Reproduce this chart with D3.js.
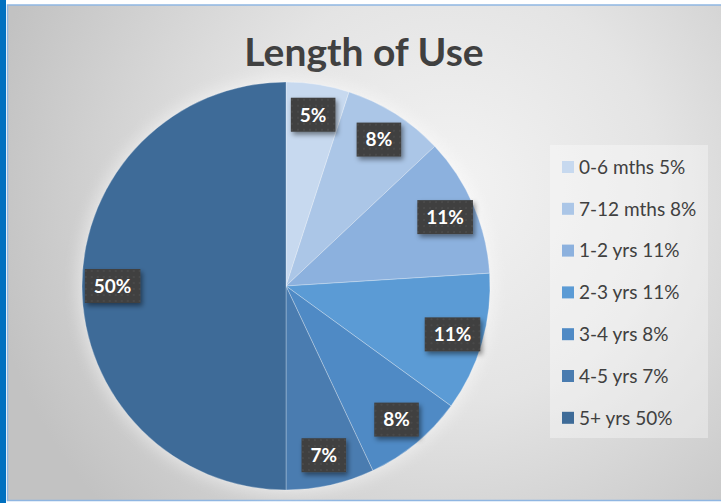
<!DOCTYPE html>
<html>
<head>
<meta charset="utf-8">
<script src="https://cdn.jsdelivr.net/npm/d3@7/dist/d3.min.js"></script>
<style>
  html, body { margin: 0; padding: 0; background: #fff; }
  svg { display: block; }
</style>
</head>
<body>
<div id="chart"></div>
<script>
// data
const categories = ['0-6 mths', '7-12 mths', '1-2 yrs', '2-3 yrs', '3-4 yrs', '4-5 yrs', '5+ yrs'];
const shares = [5, 8, 11, 11, 8, 7, 50];
const sliceColours = ['#c7d9ef', '#abc6e7', '#8cb1de', '#5b9bd5', '#4f8ac5', '#4a7cb0', '#3e6b98'];
const chartTitle = 'Length of Use';

const W = 721, H = 503;
const font = 'Lato, "Open Sans", sans-serif';

const svg = d3.select('#chart').append('svg')
    .attr('width', W)
    .attr('height', H);

const defs = svg.append('defs');

// background gradient
const bg = defs.append('radialGradient')
    .attr('id', 'bgGrad')
    .attr('gradientUnits', 'userSpaceOnUse')
    .attr('cx', 450).attr('cy', 190).attr('r', 470);
bg.append('stop').attr('offset', '0%').attr('stop-color', '#f3f3f3');
bg.append('stop').attr('offset', '45%').attr('stop-color', '#e4e4e4');
bg.append('stop').attr('offset', '100%').attr('stop-color', '#c2c2c2');

// glow round the pie
const glow = defs.append('filter').attr('id', 'glow')
    .attr('x', '-20%').attr('y', '-20%').attr('width', '140%').attr('height', '140%');
glow.append('feGaussianBlur').attr('stdDeviation', 8);

// shadow under label boxes
const shadow = defs.append('filter').attr('id', 'boxShadow')
    .attr('x', '-30%').attr('y', '-30%').attr('width', '170%').attr('height', '170%');
shadow.append('feDropShadow')
    .attr('dx', 2).attr('dy', 3).attr('stdDeviation', 2.5)
    .attr('flood-color', '#000').attr('flood-opacity', 0.45);

// dotted texture of label boxes
const pat = defs.append('pattern').attr('id', 'dots')
    .attr('patternUnits', 'userSpaceOnUse')
    .attr('width', 6).attr('height', 6);
pat.append('rect').attr('width', 6).attr('height', 6).attr('fill', '#3f3f3f');
pat.append('circle').attr('cx', 3).attr('cy', 3).attr('r', 1).attr('fill', '#4e4e4e');

// frame
svg.append('rect')
    .attr('x', 0).attr('y', 0).attr('width', 6).attr('height', H)
    .attr('fill', '#0070c0');
svg.append('rect')
    .attr('x', 7.5).attr('y', 5).attr('width', W).attr('height', 495.5)
    .attr('fill', 'url(#bgGrad)')
    .attr('stroke', '#8fb6e2')
    .attr('stroke-width', 1.5);

// title
svg.append('text')
    .attr('x', 364)
    .attr('y', 66)
    .attr('text-anchor', 'middle')
    .attr('font-family', font)
    .attr('font-weight', 'bold')
    .attr('font-size', '39px')
    .attr('fill', '#404040')
    .text(chartTitle);

// pie
const cx = 286, cy = 286, radius = 204;

const pie = d3.pie().sort(null).value(function (d) { return d; });
const arc = d3.arc().innerRadius(0).outerRadius(radius);
const labelArc = d3.arc().innerRadius(radius * 0.85).outerRadius(radius * 0.85);

const g = svg.append('g')
    .attr('transform', 'translate(' + cx + ',' + cy + ')');

g.append('circle')
    .attr('r', radius + 3)
    .attr('fill', '#ffffff')
    .attr('opacity', 0.5)
    .attr('filter', 'url(#glow)');

const arcs = pie(shares);

g.selectAll('path.slice')
    .data(arcs)
    .enter().append('path')
    .attr('class', 'slice')
    .attr('d', arc)
    .attr('fill', function (d, i) { return sliceColours[i]; })
    .attr('stroke', 'rgba(255,255,255,0.35)')
    .attr('stroke-width', 0.8);

// data labels
const labels = g.selectAll('g.dlabel')
    .data(arcs)
    .enter().append('g')
    .attr('class', 'dlabel')
    .attr('transform', function (d) {
        const c = labelArc.centroid(d);
        return 'translate(' + c[0] + ',' + c[1] + ')';
    });

labels.append('rect')
    .attr('fill', 'url(#dots)')
    .attr('filter', 'url(#boxShadow)');

labels.append('text')
    .attr('text-anchor', 'middle')
    .attr('dy', '0.36em')
    .attr('font-family', font)
    .attr('font-weight', 'bold')
    .attr('font-size', '19px')
    .attr('fill', '#ffffff')
    .text(function (d) { return d.data + '%'; });

labels.each(function () {
    const t = d3.select(this).select('text').node().getBBox();
    d3.select(this).select('rect')
        .attr('x', -t.width / 2 - 9)
        .attr('y', -17)
        .attr('width', t.width + 18)
        .attr('height', 34);
});

// legend
const legendG = svg.append('g');

legendG.append('rect')
    .attr('x', 550).attr('y', 145)
    .attr('width', 158).attr('height', 293)
    .attr('fill', '#ffffff')
    .attr('opacity', 0.35);

const legend = legendG.selectAll('.legend')
    .data(categories)
    .enter().append('g')
    .attr('class', 'legend')
    .attr('transform', function (d, i) {
        return 'translate(0,' + (167 + i * 41.8) + ')';
    });

legend.append('rect')
    .attr('x', 562)
    .attr('y', -6)
    .attr('width', 12)
    .attr('height', 12)
    .attr('fill', function (d, i) { return sliceColours[i]; });

legend.append('text')
    .attr('x', 579)
    .attr('y', 0)
    .attr('dy', '0.36em')
    .attr('font-family', font)
    .attr('font-size', '19px')
    .attr('fill', '#404040')
    .text(function (d, i) { return d + ' ' + shares[i] + '%'; });
</script>
</body>
</html>
